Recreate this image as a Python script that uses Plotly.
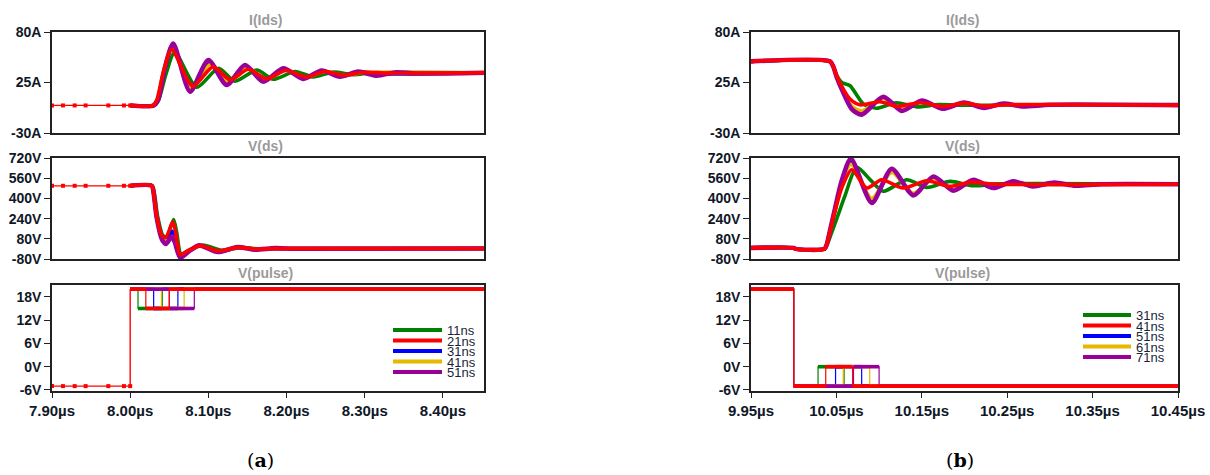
import plotly.graph_objects as go

# ---------------- colours / series names ----------------
SERIES = ["green", "blue", "gold", "purple", "red"]          # drawing order (red on top)
COLORS = {"green": "#008000", "red": "#FF0000", "blue": "#0000FF",
          "gold": "#E6B800", "purple": "#990099"}
LEGEND_ORDER = ["green", "red", "blue", "gold", "purple"]
A_LABELS = ["11ns", "21ns", "31ns", "41ns", "51ns"]
B_LABELS = ["31ns", "41ns", "51ns", "61ns", "71ns"]

# ---------------- axis ticks ----------------
A_XTICKS = [7.90, 8.00, 8.10, 8.20, 8.30, 8.40]
B_XTICKS = [9.95, 10.05, 10.15, 10.25, 10.35, 10.45]
I_TICKS = [-30, 25, 80]
VDS_TICKS = [-80, 80, 240, 400, 560, 720]
PULSE_TICKS = [-6, 0, 6, 12, 18]

# ---------------- panel (a) data (time in µs) ----------------
A_PRE_T = [7.900, 7.914, 7.929, 7.943, 7.972, 7.992, 8.000]
A_PRE_I = [0, 0, 0, 0, 0, 0, 0]
A_PRE_VDS = [500, 500, 500, 500, 500, 500, 500]
A_PRE_PULSE = [-5, -5, -5, -5, -5, -5, -5]

A_I_T = {
    "red":    [8.000, 8.029, 8.034, 8.042, 8.053, 8.080, 8.106, 8.128, 8.151, 8.1745, 8.199, 8.226, 8.249, 8.2725, 8.300, 8.330, 8.4525],
    "purple": [8.000, 8.030, 8.036, 8.044, 8.055, 8.0765, 8.100, 8.1234, 8.1468, 8.1702, 8.1958, 8.2214, 8.2449, 8.2683, 8.2917, 8.3152, 8.3408, 8.365, 8.4525],
    "blue":   [8.000, 8.030, 8.036, 8.044, 8.0545, 8.077, 8.101, 8.124, 8.148, 8.171, 8.197, 8.222, 8.246, 8.270, 8.294, 8.320, 8.4525],
    "gold":   [8.000, 8.030, 8.035, 8.043, 8.054, 8.078, 8.103, 8.126, 8.150, 8.173, 8.198, 8.224, 8.248, 8.272, 8.300, 8.4525],
    "green":  [8.000, 8.031, 8.036, 8.046, 8.057, 8.085, 8.113, 8.134, 8.162, 8.183, 8.211, 8.234, 8.260, 8.286, 8.310, 8.4525],
}
A_I = {
    "red":    [0, 0, 6, 35, 61, 21, 42, 28, 39.5, 29, 38, 31, 37, 33, 36.2, 35.2, 35.7],
    "purple": [0, 0, 7, 40, 67.5, 15, 49.5, 22.3, 44, 26, 40.5, 29, 38, 31.3, 36.8, 32.5, 36.2, 34.8, 35.7],
    "blue":   [0, 0, 7, 39, 65.5, 16.5, 47.5, 23.5, 42.5, 27, 39.5, 30, 37.5, 32, 36.5, 34.5, 35.7],
    "gold":   [0, 0, 6.5, 37, 63.5, 18.5, 45, 25.5, 41, 28, 38.5, 30.5, 37, 33, 36, 35.7],
    "green":  [0, 0, 5, 35, 58, 19.8, 40.5, 26.5, 38.6, 28.5, 37, 31, 36.5, 33.5, 35.5, 35.7],
}

A_VDS_T = {
    "red":    [8.000, 8.0275, 8.030, 8.034, 8.041, 8.046, 8.0545, 8.0585, 8.064, 8.075, 8.0893, 8.1127, 8.138, 8.160, 8.190, 8.4525],
    "green":  [8.000, 8.028, 8.031, 8.035, 8.042, 8.047, 8.0555, 8.0595, 8.065, 8.076, 8.093, 8.117, 8.141, 8.165, 8.200, 8.4525],
    "blue":   [8.000, 8.0275, 8.030, 8.034, 8.041, 8.046, 8.054, 8.058, 8.064, 8.075, 8.089, 8.113, 8.138, 8.160, 8.190, 8.4525],
    "gold":   [8.000, 8.0275, 8.030, 8.034, 8.041, 8.046, 8.054, 8.058, 8.064, 8.075, 8.089, 8.113, 8.138, 8.160, 8.190, 8.4525],
    "purple": [8.000, 8.0275, 8.030, 8.034, 8.041, 8.046, 8.053, 8.057, 8.064, 8.074, 8.088, 8.112, 8.137, 8.160, 8.185, 8.210, 8.4525],
}
A_VDS = {
    "red":    [500, 500, 440, 255, 100, 95, 215, 120, -45, -10, 25, -15, 12, 0, 3, 3],
    "green":  [500, 500, 440, 260, 105, 100, 232, 130, -40, -8, 30, -12, 10, 0, 3, 3],
    "blue":   [500, 500, 440, 250, 85, 70, 140, 80, -55, -15, 27, -20, 13, -2, 3, 3],
    "gold":   [500, 500, 440, 248, 80, 60, 96, 60, -60, -18, 27, -22, 13, -3, 3, 3],
    "purple": [500, 500, 440, 245, 70, 40, 97, 55, -70, -25, 28, -25, 14, -6, 6, 1, 3],
}

A_SWITCH_T = 8.000
A_END_T = 8.4525
A_PULSE_DOWN = {"green": 8.010, "red": 8.020, "blue": 8.030, "gold": 8.040, "purple": 8.050}
A_PULSE_UP = {"green": 8.041, "red": 8.050, "blue": 8.061, "gold": 8.069, "purple": 8.082}
A_HIGH, A_MID, A_LOW = 20, 15, -5

# ---------------- panel (b) data ----------------
B_I_T = {
    "red":    [9.95, 10.0425, 10.0465, 10.0503, 10.058, 10.0659, 10.0776, 10.101, 10.1206, 10.148, 10.1745, 10.199, 10.2217, 10.250, 10.45],
    "green":  [9.95, 10.0425, 10.0465, 10.0503, 10.0562, 10.066, 10.0817, 10.0972, 10.120, 10.144, 10.170, 10.200, 10.45],
    "purple": [9.95, 10.0425, 10.0465, 10.0503, 10.058, 10.068, 10.0797, 10.105, 10.1267, 10.150, 10.1745, 10.1995, 10.2229, 10.2456, 10.268, 10.300, 10.45],
    "blue":   [9.95, 10.0425, 10.0465, 10.0503, 10.058, 10.068, 10.0797, 10.105, 10.1267, 10.150, 10.1745, 10.1995, 10.2229, 10.2456, 10.268, 10.300, 10.45],
    "gold":   [9.95, 10.0425, 10.0465, 10.0503, 10.058, 10.068, 10.0797, 10.105, 10.1267, 10.150, 10.1745, 10.1995, 10.2229, 10.2456, 10.268, 10.300, 10.45],
}
B_I = {
    "red":    [48, 48, 42, 32.5, 18, 7, 0.7, 4, -1, 3, -1, 2.5, -0.5, 0.8, 0.4],
    "green":  [48, 48, 42, 33, 25, 21.5, 1.5, -3, 3, -1.5, 1, 0.2, 0.4],
    "purple": [48, 48, 42, 31, 14, -4, -10, 9.5, -6, 5.4, -3.6, 3.2, -2.6, 2, -1, 0.8, 0.4],
    "blue":   [48, 48, 42, 31.5, 15, -2.5, -7.5, 8.5, -5, 4.5, -3, 2.8, -2, 1.5, -0.8, 0.6, 0.4],
    "gold":   [48, 48, 42, 32, 16, -1, -6, 7.5, -4, 4, -2.5, 2.4, -1.6, 1.2, -0.6, 0.5, 0.4],
}

B_VDS_T = {
    "red":    [9.95, 10.000, 10.002, 10.036, 10.0386, 10.0425, 10.0484, 10.0562, 10.068, 10.0855, 10.103, 10.1283, 10.1557, 10.183, 10.2064, 10.240, 10.45],
    "green":  [9.95, 10.000, 10.002, 10.036, 10.039, 10.044, 10.051, 10.060, 10.0738, 10.090, 10.105, 10.1323, 10.156, 10.183, 10.210, 10.240, 10.45],
    "purple": [9.95, 10.000, 10.002, 10.036, 10.0386, 10.0425, 10.0484, 10.0562, 10.067, 10.0915, 10.1148, 10.140, 10.1637, 10.187, 10.2104, 10.2338, 10.2571, 10.280, 10.305, 10.330, 10.360, 10.45],
    "blue":   [9.95, 10.000, 10.002, 10.036, 10.0386, 10.0425, 10.0484, 10.0562, 10.067, 10.0915, 10.1148, 10.140, 10.1637, 10.187, 10.2104, 10.2338, 10.2571, 10.280, 10.305, 10.330, 10.360, 10.45],
    "gold":   [9.95, 10.000, 10.002, 10.036, 10.0386, 10.0425, 10.0484, 10.0562, 10.067, 10.0915, 10.1148, 10.140, 10.1637, 10.187, 10.2104, 10.2338, 10.2571, 10.280, 10.305, 10.330, 10.360, 10.45],
}
B_VDS = {
    "red":    [8, 8, 0, 0, 33, 139, 297, 482, 627, 482, 548, 482, 540, 495, 527, 512, 512],
    "green":  [8, 8, 0, 0, 30, 120, 250, 420, 646, 545, 456, 548, 487, 535, 500, 515, 512],
    "purple": [8, 8, 0, 0, 33, 145, 320, 540, 715, 364, 635, 424, 574, 461, 548, 482, 535, 495, 525, 500, 512, 512],
    "blue":   [8, 8, 0, 0, 33, 142, 315, 530, 690, 385, 620, 432, 565, 466, 543, 486, 532, 497, 522, 502, 512, 512],
    "gold":   [8, 8, 0, 0, 33, 140, 310, 520, 670, 400, 605, 440, 558, 470, 540, 488, 530, 498, 520, 503, 512, 512],
}

B_START_T = 9.95
B_SWITCH_T = 10.000
B_END_T = 10.45
B_PULSE_UP = {"green": 10.0285, "red": 10.0375, "blue": 10.049, "gold": 10.058, "purple": 10.070}
B_PULSE_DOWN = {"green": 10.059, "red": 10.069, "blue": 10.0796, "gold": 10.089, "purple": 10.100}
B_HIGH, B_MID, B_LOW = 20, 0, -5

# ---------------- layout geometry (pixels) ----------------
W, H = 1210, 475
A_X = (52, 484)
B_X = (751, 1178)
ROWS = [(32, 133), (158, 259), (285, 391)]

def xd(p):
    return [p[0] / W, p[1] / W]

def yd(r):
    return [1 - r[1] / H, 1 - r[0] / H]

fig = go.Figure()
WIDTH = {"green": 3.6, "blue": 3.6, "gold": 3.6, "purple": 4.6, "red": 3.6}


def line(t, y, color, width, ax, shape="spline", mode="lines", marker=None):
    kw = dict(x=t, y=y, mode=mode, xaxis="x" + ("" if ax == 1 else str(ax)),
              yaxis="y" + ("" if ax == 1 else str(ax)), showlegend=False,
              hoverinfo="skip", cliponaxis=True,
              line=dict(color=color, width=width, shape=shape))
    if shape == "spline":
        kw["line"]["smoothing"] = 0.7
    if marker:
        kw["marker"] = marker
    fig.add_trace(go.Scatter(**kw))


# ---- panel (a) I and Vds ----
for s in SERIES:
    line(A_I_T[s], A_I[s], COLORS[s], WIDTH[s], 1)
    line(A_VDS_T[s], A_VDS[s], COLORS[s], WIDTH[s], 2)
mk = dict(symbol="square", size=4, color=COLORS["red"])
line(A_PRE_T, A_PRE_I, COLORS["red"], 1.2, 1, shape="linear", mode="lines+markers", marker=mk)
line(A_PRE_T, A_PRE_VDS, COLORS["red"], 1.2, 2, shape="linear", mode="lines+markers", marker=mk)

# ---- panel (a) pulse ----
for s in SERIES:
    d, u = A_PULSE_DOWN[s], A_PULSE_UP[s]
    line([A_SWITCH_T, d, d, u, u, A_END_T], [A_HIGH, A_HIGH, A_MID, A_MID, A_HIGH, A_HIGH],
         COLORS[s], 1.2, 3, shape="linear")
    line([A_SWITCH_T, d, None, d, u, None, u, A_END_T],
         [A_HIGH, A_HIGH, None, A_MID, A_MID, None, A_HIGH, A_HIGH],
         COLORS[s], 3.6, 3, shape="linear")
line(A_PRE_T, A_PRE_PULSE, COLORS["red"], 1.2, 3, shape="linear", mode="lines+markers", marker=mk)
line([A_SWITCH_T, A_SWITCH_T], [A_LOW, A_HIGH], COLORS["red"], 1.4, 3, shape="linear")

# ---- panel (b) I and Vds ----
for s in SERIES:
    line(B_I_T[s], B_I[s], COLORS[s], WIDTH[s], 4)
    line(B_VDS_T[s], B_VDS[s], COLORS[s], WIDTH[s], 5)

# ---- panel (b) pulse ----
for s in SERIES:
    u, d = B_PULSE_UP[s], B_PULSE_DOWN[s]
    line([B_START_T, B_SWITCH_T, B_SWITCH_T, u, u, d, d, B_END_T],
         [B_HIGH, B_HIGH, B_LOW, B_LOW, B_MID, B_MID, B_LOW, B_LOW],
         COLORS[s], 1.2, 6, shape="linear")
    line([B_START_T, B_SWITCH_T, None, B_SWITCH_T, u, None, u, d, None, d, B_END_T],
         [B_HIGH, B_HIGH, None, B_LOW, B_LOW, None, B_MID, B_MID, None, B_LOW, B_LOW],
         COLORS[s], 3.6, 6, shape="linear")

# ---------------- axes ----------------
TICKFONT = dict(family="Liberation Sans, Arial", size=14, color="#101828", weight="bold")
FRAME = dict(showline=True, mirror=True, linecolor="#222222", linewidth=1.5,
             showgrid=False, zeroline=False, automargin=False)

layout = dict(width=W, height=H, margin=dict(l=0, r=0, t=0, b=0, autoexpand=False),
              paper_bgcolor="white", plot_bgcolor="white", showlegend=False)

panels = [(A_X, [7.90, 8.4525], A_XTICKS), (B_X, [9.95, 10.45], B_XTICKS)]
yspecs = [([-30, 80], I_TICKS, "A"), ([-80, 720], VDS_TICKS, "V"), ([-6.26, 21.05], PULSE_TICKS, "V")]
k = 0
for pi, (px, xr, xt) in enumerate(panels):
    for ri, (yr, yt, unit) in enumerate(yspecs):
        k += 1
        xn = "xaxis" + ("" if k == 1 else str(k))
        yn = "yaxis" + ("" if k == 1 else str(k))
        bottom = ri == 2
        layout[xn] = dict(FRAME, domain=xd(px), range=xr, anchor="y" + ("" if k == 1 else str(k)),
                          tickmode="array", tickvals=xt,
                          ticktext=[f"{v:.2f}µs" for v in xt],
                          ticks="outside" if bottom else "", ticklen=5, tickcolor="#222222",
                          showticklabels=bottom,
                          tickfont=dict(TICKFONT, size=15))
        layout[yn] = dict(FRAME, domain=yd(ROWS[ri]), range=yr, anchor="x" + ("" if k == 1 else str(k)),
                          tickmode="array", tickvals=yt,
                          ticktext=[f"{v}{unit}" for v in yt],
                          ticks="outside", ticklen=6, tickcolor="#222222",
                          tickfont=TICKFONT)
fig.update_layout(**layout)

# ---------------- titles / legends / captions ----------------
TITLES = ["I(Ids)", "V(ds)", "V(pulse)"]
TITLE_Y = [20, 146, 273]
for cx in (265, 962):
    for txt, ty in zip(TITLES, TITLE_Y):
        fig.add_annotation(xref="paper", yref="paper", x=cx / W, y=1 - ty / H,
                           text=f"<b>{txt}</b>", showarrow=False,
                           font=dict(family="Liberation Sans, Arial", size=14, color="#9a9a9a"),
                           xanchor="center", yanchor="middle")

def legend(x0, x1, ys, labels):
    for s, lab, yy in zip(LEGEND_ORDER, labels, ys):
        fig.add_shape(type="line", xref="paper", yref="paper",
                      x0=x0 / W, x1=x1 / W, y0=1 - yy / H, y1=1 - yy / H,
                      line=dict(color=COLORS[s], width=4))
        fig.add_annotation(xref="paper", yref="paper", x=(x1 + 3) / W, y=1 - yy / H,
                           text=lab, showarrow=False, xanchor="left", yanchor="middle",
                           height=10, valign="middle",
                           font=dict(family="Liberation Sans, Arial", size=13, color="#1a1f3a"))

legend(393, 442, [330, 340.5, 351, 361.5, 372], A_LABELS)
legend(1083, 1131, [315, 325.5, 336, 346.5, 357], B_LABELS)

for cx, lab in ((260, "a"), (960, "b")):
    fig.add_annotation(xref="paper", yref="paper", x=cx / W, y=1 - 460 / H,
                       text=f"(<b>{lab}</b>)", showarrow=False,
                       font=dict(family="DejaVu Serif", size=19, color="#000000"),
                       xanchor="center", yanchor="middle")

fig.write_html("out.html", config={"displayModeBar": False},
               post_script="document.body.style.margin='0';document.body.style.overflow='hidden';")
